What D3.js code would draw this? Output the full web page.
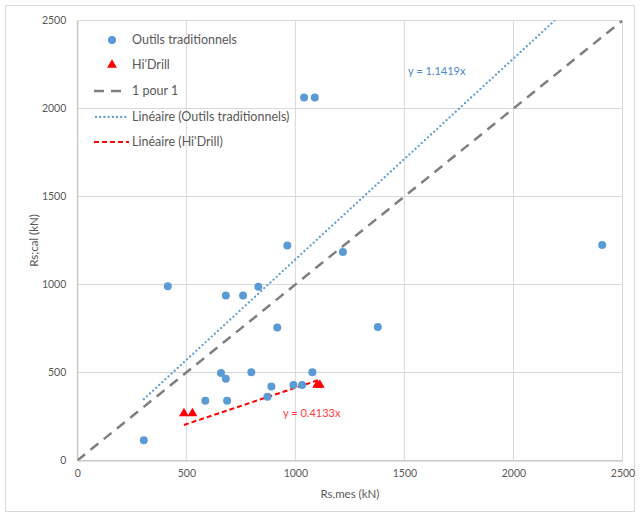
<!DOCTYPE html>
<html>
<head>
<meta charset="utf-8">
<script src="https://cdn.jsdelivr.net/npm/d3@7"></script>
<style>
  html, body { margin: 0; padding: 0; background: #fff; }
  svg { display: block; font-family: Lato, "Open Sans", sans-serif; }
</style>
</head>
<body>
<svg id="chart" width="640" height="517"></svg>
<script>
// Outils traditionnels: measured vs computed shaft resistance (kN)
const tradMes = [305, 415, 681, 760, 830, 963, 1040, 1089, 1218, 2407, 917, 1378,
                 659, 681, 798, 1078, 587, 687, 890, 872, 991, 1031];
const tradCal = [115, 990, 938, 938, 987, 1221, 2062, 2062, 1184, 1224, 756, 758,
                 497, 465, 501, 501, 340, 340, 421, 362, 429, 429];
// Hi'Drill
const hdMes = [489, 528, 1100, 1112];
const hdCal = [268, 268, 430, 430];
// Trend line slopes (through origin)
const slopeTrad = 1.1419;
const slopeHd = 0.4133;
const ticks = [0, 500, 1000, 1500, 2000, 2500];
const legendLabels = ["Outils traditionnels", "Hi'Drill", "1 pour 1",
                      "Linéaire (Outils traditionnels)", "Linéaire (Hi'Drill)"];

const svg = d3.select("#chart");
const W = 640, H = 517;
const m = { left: 77.3, right: 622.5, top: 20.5, bottom: 460.5 };

const x = d3.scaleLinear().domain([0, 2500]).range([m.left, m.right]);
const y = d3.scaleLinear().domain([0, 2500]).range([m.bottom, m.top]);

// outer frame
svg.append("rect").attr("x", 5.5).attr("y", 5.5).attr("width", W - 11).attr("height", H - 11)
  .attr("fill", "#fff").attr("stroke", "#d9d9d9");

const grid = "#d9d9d9";
// gridlines
svg.append("g").selectAll("line.v").data(ticks).join("line")
  .attr("x1", d => x(d)).attr("x2", d => x(d)).attr("y1", m.top).attr("y2", m.bottom)
  .attr("stroke", grid).attr("stroke-width", 1);
svg.append("g").selectAll("line.h").data(ticks).join("line")
  .attr("x1", m.left).attr("x2", m.right).attr("y1", d => y(d)).attr("y2", d => y(d))
  .attr("stroke", grid).attr("stroke-width", 1);

// axes (labels only)
const fmt = d3.format("d");
const xAxis = d3.axisBottom(x).tickValues(ticks).tickFormat(fmt).tickSize(0).tickPadding(9);
const yAxis = d3.axisLeft(y).tickValues(ticks).tickFormat(fmt).tickSize(0).tickPadding(11);
const gx = svg.append("g").attr("transform", `translate(0,${m.bottom})`).call(xAxis);
const gy = svg.append("g").attr("transform", `translate(${m.left},0)`).call(yAxis);
[gx, gy].forEach(g => {
  g.select(".domain").attr("stroke", "#bfbfbf");
  g.selectAll("text").attr("fill", "#595959").style("font-size", "10.5px")
    .style("font-family", "Lato, sans-serif");
});

// axis titles
svg.append("text").attr("x", (m.left + m.right) / 2).attr("y", 498)
  .attr("text-anchor", "middle").attr("fill", "#595959").style("font-size", "11.5px")
  .text("Rs,mes (kN)");
svg.append("text").attr("transform", `translate(38,${(m.top + m.bottom) / 2}) rotate(-90)`)
  .attr("text-anchor", "middle").attr("fill", "#595959").style("font-size", "11.5px")
  .text("Rs;cal (kN)");

const plot = svg.append("g");
svg.append("clipPath").attr("id", "clip").append("rect")
  .attr("x", m.left).attr("y", m.top).attr("width", m.right - m.left).attr("height", m.bottom - m.top);
plot.attr("clip-path", "url(#clip)");

// 1:1 line
plot.append("line").attr("x1", x(0)).attr("y1", y(0)).attr("x2", x(2500)).attr("y2", y(2500))
  .attr("stroke", "#7f7f7f").attr("stroke-width", 2.5).attr("stroke-dasharray", "10,7");

// trend line, traditional tools
const tx0 = d3.min(tradMes), tx1 = 2500 / slopeTrad;
plot.append("line").attr("x1", x(tx0)).attr("y1", y(slopeTrad * tx0))
  .attr("x2", x(tx1)).attr("y2", y(slopeTrad * tx1))
  .attr("stroke", "#5b9bd5").attr("stroke-width", 2.3).attr("stroke-linecap", "round")
  .attr("stroke-dasharray", "0,4.2");

// trend line, Hi'Drill
const hx0 = d3.min(hdMes), hx1 = d3.max(hdMes);
plot.append("line").attr("x1", x(hx0)).attr("y1", y(slopeHd * hx0))
  .attr("x2", x(hx1)).attr("y2", y(slopeHd * hx1))
  .attr("stroke", "#ff0000").attr("stroke-width", 2).attr("stroke-dasharray", "5,3");

// points
plot.append("g").selectAll("circle").data(tradMes).join("circle")
  .attr("cx", d => x(d)).attr("cy", (d, i) => y(tradCal[i])).attr("r", 4)
  .attr("fill", "#5b9bd5");
const tri = d3.symbol().type(d3.symbolTriangle).size(42);
plot.append("g").selectAll("path").data(hdMes).join("path")
  .attr("d", tri).attr("transform", (d, i) => `translate(${x(d)},${y(hdCal[i])})`)
  .attr("fill", "#ff0000");

// equations
svg.append("text").attr("x", 408).attr("y", 75).attr("fill", "#4a86c8")
  .style("font-size", "11px").text(`y = ${slopeTrad}x`);
svg.append("text").attr("x", 283).attr("y", 417).attr("fill", "#ff3b3b")
  .style("font-size", "11px").text(`y = ${slopeHd}x`);

// legend
const lg = svg.append("g");
const rowY = [40, 65, 91, 117, 142];
const lx = 132;
legendLabels.forEach((t, i) => {
  lg.append("text").attr("x", lx).attr("y", rowY[i]).attr("dy", "0.35em")
    .attr("fill", "#595959").style("font-size", "12.5px").text(t);
});
lg.append("circle").attr("cx", 112).attr("cy", rowY[0]).attr("r", 4).attr("fill", "#5b9bd5");
lg.append("path").attr("d", tri).attr("transform", `translate(112,${rowY[1]})`).attr("fill", "#ff0000");
lg.append("line").attr("x1", 94).attr("x2", 128).attr("y1", rowY[2]).attr("y2", rowY[2])
  .attr("stroke", "#7f7f7f").attr("stroke-width", 2.5).attr("stroke-dasharray", "10,7");
lg.append("line").attr("x1", 96).attr("x2", 128).attr("y1", rowY[3]).attr("y2", rowY[3])
  .attr("stroke", "#5b9bd5").attr("stroke-width", 2.3).attr("stroke-linecap", "round")
  .attr("stroke-dasharray", "0,4.2");
lg.append("line").attr("x1", 94).attr("x2", 129).attr("y1", rowY[4]).attr("y2", rowY[4])
  .attr("stroke", "#ff0000").attr("stroke-width", 2).attr("stroke-dasharray", "5,3");
</script>
</body>
</html>
